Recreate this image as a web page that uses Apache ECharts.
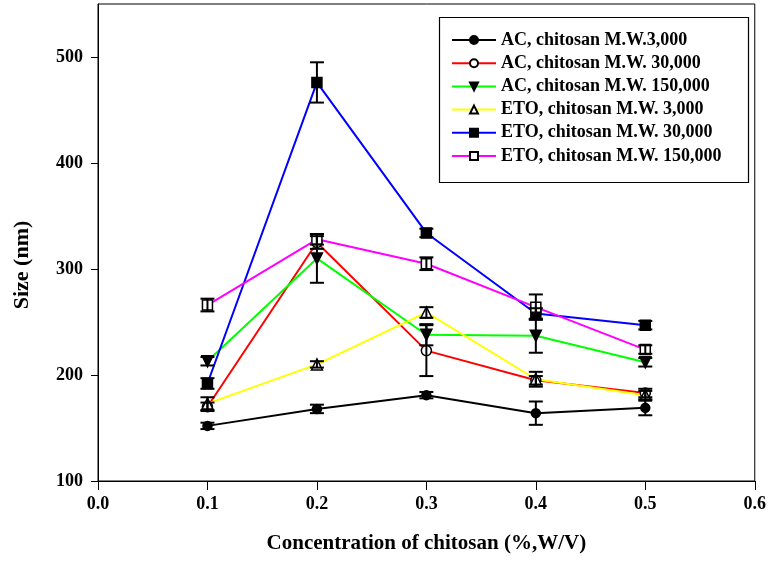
<!DOCTYPE html>
<html>
<head>
<meta charset="utf-8">
<script src="https://cdn.jsdelivr.net/npm/echarts@6/dist/echarts.min.js"></script>
<style>html,body{margin:0;padding:0;background:#fff}#c{width:769px;height:562px}</style>
</head>
<body>
<div id="c"></div>
<script>
var xVals = [0.1, 0.2, 0.3, 0.4, 0.5];
var xTicks = ['0.0', '0.1', '0.2', '0.3', '0.4', '0.5', '0.6'];
var yTicks = [100, 200, 300, 400, 500];
var seriesNames = ['AC, chitosan M.W.3,000', 'AC, chitosan M.W. 30,000', 'AC, chitosan M.W. 150,000',
  'ETO, chitosan M.W. 3,000', 'ETO, chitosan M.W. 30,000', 'ETO, chitosan M.W. 150,000'];
var ac3000 = [152, 168, 181, 164, 169];
var ac3000Err = [3, 4, 3, 11, 7];
var ac30000 = [170, 325, 223, 195, 183];
var ac30000Err = [4, 6, 24, 4, 4];
var ac150000 = [213, 310, 238, 237, 212];
var ac150000Err = [4, 23, 10, 16, 4];
var eto3000 = [173, 210, 259, 196, 181];
var eto3000Err = [6, 3, 5, 7, 4];
var eto30000 = [192, 476, 334, 258, 247];
var eto30000Err = [5, 19, 4, 5, 4];
var eto150000 = [266, 328, 305, 264, 224];
var eto150000Err = [6, 5, 6, 12, 4];

var values = [ac3000, ac30000, ac150000, eto3000, eto30000, eto150000];
var errs = [ac3000Err, ac30000Err, ac150000Err, eto3000Err, eto30000Err, eto150000Err];
var colors = ['#000000', '#ff0000', '#00ff00', '#ffff00', '#0000ff', '#ff00ff'];
var symbols = ['circle', 'circle', 'triangle', 'triangle', 'rect', 'rect'];
var rotates = [0, 0, 180, 0, 0, 0];
var fills = ['#000', '#fff', '#000', '#fff', '#000', '#fff'];
var sizes = [9, 10, 11, 11, 10, 10];

var FONT = '"Liberation Serif", "DejaVu Serif", serif';
var chart = echarts.init(document.getElementById('c'));
var series = [];
values.forEach(function (vals, i) {
  series.push({
    name: seriesNames[i], type: 'line',
    data: vals.map(function (v, j) { return [xVals[j], v]; }),
    lineStyle: { color: colors[i], width: 2 },
    itemStyle: { color: fills[i], borderColor: '#000', borderWidth: 1.5 },
    symbol: symbols[i], symbolRotate: rotates[i], symbolSize: sizes[i],
    z: 3, animation: false
  });
});
values.forEach(function (vals, i) {
  series.push({
    type: 'custom', z: 4, animation: false, silent: true,
    data: vals.map(function (v, j) { return [xVals[j], v - errs[i][j], v + errs[i][j]]; }),
    renderItem: function (params, api) {
      var lo = api.coord([api.value(0), api.value(1)]);
      var hi = api.coord([api.value(0), api.value(2)]);
      var w = 7;
      var st = { stroke: '#000', lineWidth: 2 };
      return { type: 'group', children: [
        { type: 'line', shape: { x1: lo[0], y1: lo[1], x2: hi[0], y2: hi[1] }, style: st },
        { type: 'line', shape: { x1: lo[0] - w, y1: lo[1], x2: lo[0] + w, y2: lo[1] }, style: st },
        { type: 'line', shape: { x1: hi[0] - w, y1: hi[1], x2: hi[0] + w, y2: hi[1] }, style: st }
      ] };
    }
  });
});

chart.setOption({
  animation: false,
  grid: { left: 98, right: 12, top: 4, bottom: 81, show: true, borderColor: '#000', borderWidth: 1 },
  xAxis: {
    type: 'value', min: 0, max: 0.6, interval: 0.1,
    name: 'Concentration of chitosan (%,W/V)', nameLocation: 'middle', nameGap: 52,
    nameTextStyle: { fontFamily: FONT, fontWeight: 'bold', fontSize: 21, color: '#000' },
    axisLine: { lineStyle: { color: '#000', width: 1 } },
    axisTick: { inside: false, length: 9, lineStyle: { color: '#000' } },
    axisLabel: { margin: 14, fontFamily: FONT, fontWeight: 'bold', fontSize: 18, color: '#000',
      formatter: function (v) { return xTicks[Math.round(v * 10)]; } },
    splitLine: { show: false }
  },
  yAxis: {
    type: 'value', min: 100, max: 550, interval: 100,
    axisLine: { show: true, lineStyle: { color: '#000', width: 1 } },
    axisTick: { show: true, inside: false, length: 7, lineStyle: { color: '#000' } },
    axisLabel: { margin: 15, fontFamily: FONT, fontWeight: 'bold', fontSize: 18, color: '#000',
      showMaxLabel: false,
      formatter: function (v) { return yTicks.indexOf(v) >= 0 ? String(v) : ''; } },
    splitLine: { show: false }
  },
  legend: {
    orient: 'vertical', left: 437, top: 15,
    padding: [16, 12, 15, 14], itemGap: 5.2, itemWidth: 44, itemHeight: 10,
    data: seriesNames,
    textStyle: { fontFamily: FONT, fontWeight: 'bold', fontSize: 18, lineHeight: 18, color: '#000' }
  },
  graphic: [
    { type: 'rect', left: 437, top: 15, shape: { width: 309, height: 165 },
      style: { fill: 'none', stroke: '#000', lineWidth: 1.2 }, z: 10 },
    { type: 'text', x: 22, y: 265, rotation: Math.PI / 2,
      style: { text: 'Size (nm)', fontFamily: FONT, fontWeight: 'bold', fontSize: 22, fill: '#000',
        align: 'center', verticalAlign: 'middle' } }
  ],
  series: series
});
</script>
</body>
</html>
